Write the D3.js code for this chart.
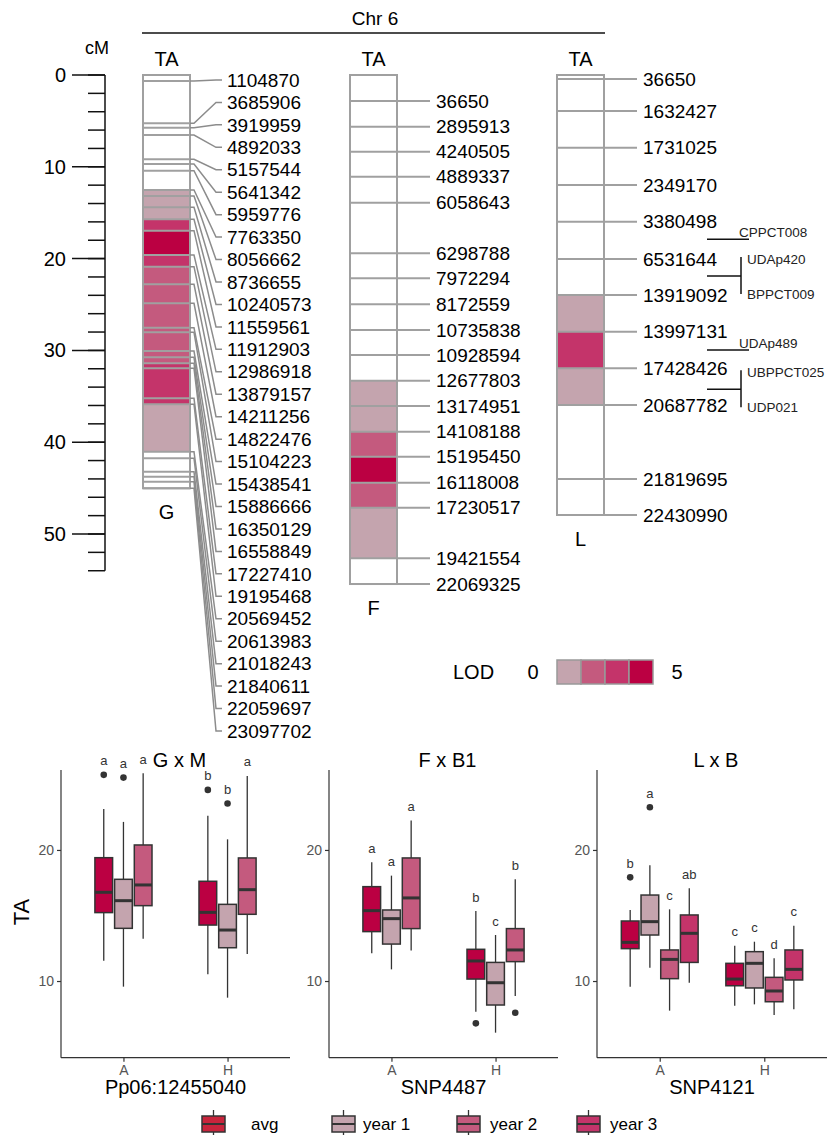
<!DOCTYPE html>
<html>
<head>
<meta charset="utf-8">
<script src="https://cdn.jsdelivr.net/npm/d3@7"></script>
<style>
body { margin: 0; background: #fff; }
svg { font-family: "Liberation Sans", Arial, sans-serif; }
</style>
</head>
<body>
<div id="svg-container"></div>
<script>
// ---- linkage maps (positions in cM, marker names = physical position) ----
var gMarkerCM = [0.65, 5.26, 5.74, 6.54, 9.18, 9.69, 10.42, 12.53, 13.18, 14.41, 15.72, 16.96, 19.61, 20.88, 22.8,
                 24.87, 27.53, 28.03, 30.07, 30.75, 31.41, 31.95, 35.22, 35.87, 41.03, 41.75, 43.21, 43.76, 44.3, 45.02];
var gMarkerNames = ["1104870", "3685906", "3919959", "4892033", "5157544", "5641342", "5959776", "7763350", "8056662",
                    "8736655", "10240573", "11559561", "11912903", "12986918", "13879157", "14211256", "14822476",
                    "15104223", "15438541", "15886666", "16350129", "16558849", "17227410", "19195468", "20569452",
                    "20613983", "21018243", "21840611", "22059697", "23097702"];
// LOD class of each interval between consecutive markers (0 = outside QTL)
var gLod = [0, 0, 0, 0, 0, 0, 0, 1, 1, 1, 3, 4, 3, 2, 2, 2, 2, 2, 2, 2, 3, 3, 3, 1, 0, 0, 0, 0, 0];

var fMarkerCM = [2.83, 5.63, 8.36, 11.08, 13.91, 19.42, 22.15, 24.97, 27.78, 30.5, 33.3, 36.06, 38.86, 41.58, 44.41, 47.14, 52.65, 55.45];
var fMarkerNames = ["36650", "2895913", "4240505", "4889337", "6058643", "6298788", "7972294", "8172559", "10735838",
                    "10928594", "12677803", "13174951", "14108188", "15195450", "16118008", "17230517", "19421554", "22069325"];
var fLod = [0, 0, 0, 0, 0, 0, 0, 0, 0, 0, 1, 1, 2, 4, 2, 1, 0];

var lMarkerCM = [0.44, 3.92, 7.92, 11.98, 15.98, 20.04, 23.97, 27.96, 31.95, 35.95, 44.01, 47.93];
var lMarkerNames = ["36650", "1632427", "1731025", "2349170", "3380498", "6531644", "13919092", "13997131",
                    "17428426", "20687782", "21819695", "22430990"];
var lLod = [0, 0, 0, 0, 0, 0, 1, 3, 1, 0, 0];

// SSR markers placed on the L map (cM)
var ssrSingles = [["CPPCT008", 17.9], ["UDAp489", 29.96]];
var ssrPairs = [["UDAp420", "BPPCT009", 21.9], ["UBPPCT025", "UDP021", 34.24]];

var cmTicks = d3.range(0, 51, 10);
var cmMinor = d3.range(0, 55, 2);

// ---- box plots: [group, series, lowWhisker, q1, median, q3, highWhisker, outliers, letter] ----
var groups = ["A", "H"];
var seriesNames = ["avg", "year 1", "year 2", "year 3"];

var gxmStats = [
  ["A", "avg",    11.55, 15.22, 16.77, 19.41, 23.13, [25.73], "a"],
  ["A", "year 1",  9.57, 14.02, 16.13, 17.76, 22.14, [25.52], "a"],
  ["A", "year 2", 13.23, 15.75, 17.33, 20.38, 25.85, [],      "a"],
  ["H", "avg",    10.51, 14.27, 15.24, 17.61, 22.6,  [24.58], "b"],
  ["H", "year 1",  8.73, 12.54, 13.89, 15.85, 20.81, [23.54], "b"],
  ["H", "year 2", 12.06, 15.09, 16.97, 19.39, 25.65, [],      "a"]
];
var fxbStats = [
  ["A", "avg",    12.11, 13.77, 15.37, 17.2,  19.06, [],     "a"],
  ["A", "year 1", 10.89, 12.82, 14.76, 15.42, 18.04, [],     "a"],
  ["A", "year 2", 12.32, 14.0,  16.34, 19.39, 22.24, [],     "a"],
  ["H", "avg",     7.66, 10.15, 11.53, 12.42, 15.34, [6.77], "b"],
  ["H", "year 1",  6.06,  8.17,  9.87, 11.42, 13.51, [],     "c"],
  ["H", "year 2",  8.85, 11.48, 12.37, 14.0,  17.76, [7.58], "b"]
];
var lxbStats = [
  ["A", "avg",     9.57, 12.47, 12.95, 14.58, 15.42, [17.91], "b"],
  ["A", "year 1", 11.02, 13.51, 14.53, 16.56, 18.83, [23.26], "a"],
  ["A", "year 2",  7.74, 10.18, 11.65, 12.37, 15.47, [],      "c"],
  ["A", "year 3",  9.87, 11.42, 13.64, 15.04, 17.07, [],      "ab"],
  ["H", "avg",     8.12,  9.64, 10.15, 11.35, 12.7,  [],      "c"],
  ["H", "year 1",  8.22,  9.47, 11.35, 12.24, 13.0,  [],      "c"],
  ["H", "year 2",  7.4,   8.42,  9.24, 10.28, 11.73, [],      "d"],
  ["H", "year 3",  7.84, 10.08, 10.89, 12.37, 14.22, [],      "c"]
];
var panelTitles = ["G x M", "F x B1", "L x B"];
var panelXLabels = ["Pp06:12455040", "SNP4487", "SNP4121"];
var panelSeries = [seriesNames.slice(0, 3), seriesNames.slice(0, 3), seriesNames];

// ---- styles ----
var lodColors = ["#ffffff", "#c4a4ae", "#c45a7e", "#c4346a", "#bb0042"];
var seriesColor = d3.scaleOrdinal().domain(seriesNames).range(["#bb0042", "#c4a4ae", "#c45a7e", "#c4346a"]);
var legendColor = d3.scaleOrdinal().domain(seriesNames).range(["#c8243c", "#c4a4ae", "#c45a7e", "#c4346a"]);
var chrGray = "#a0a0a0";

var width = 834, height = 1135;
var svg = d3.select("#svg-container").append("svg")
  .attr("width", width).attr("height", height);

// ================= linkage map =================
var cmY = d3.scaleLinear().domain([0, 50]).range([75, 534]);

svg.append("text").attr("x", 375).attr("y", 25).attr("text-anchor", "middle")
  .attr("font-size", 19).text("Chr 6");
svg.append("line").attr("x1", 142).attr("x2", 605).attr("y1", 33).attr("y2", 33)
  .attr("stroke", "#111").attr("stroke-width", 1.3);

// cM axis
var cmAxis = svg.append("g").attr("transform", "translate(105,0)");
cmAxis.append("line").attr("y1", cmY(0)).attr("y2", cmY(54)).attr("stroke", "#111").attr("stroke-width", 1.5);
cmAxis.selectAll("line.minor").data(cmMinor).enter().append("line")
  .attr("class", "minor").attr("x1", -17).attr("x2", 0)
  .attr("y1", function(d) { return cmY(d); }).attr("y2", function(d) { return cmY(d); })
  .attr("stroke", "#111").attr("stroke-width", 1.5);
cmAxis.selectAll("line.major").data(cmTicks).enter().append("line")
  .attr("class", "major").attr("x1", -33).attr("x2", 0)
  .attr("y1", function(d) { return cmY(d); }).attr("y2", function(d) { return cmY(d); })
  .attr("stroke", "#111").attr("stroke-width", 1.5);
cmAxis.selectAll("text").data(cmTicks).enter().append("text")
  .attr("x", -39).attr("y", function(d) { return cmY(d); })
  .attr("dy", "0.35em").attr("text-anchor", "end").attr("font-size", 20).text(function(d) { return d; });
svg.append("text").attr("x", 97).attr("y", 54).attr("text-anchor", "middle").attr("font-size", 18).text("cM");

function drawChrom(x0, markers, names, lod, chrName, fanLabels) {
  var w = 47, top = cmY(0), bottom = cmY(markers[markers.length - 1]);
  var g = svg.append("g");
  // QTL intervals
  g.selectAll("rect.lod").data(lod).enter().append("rect")
    .attr("x", x0).attr("width", w)
    .attr("y", function(d, i) { return cmY(markers[i]); })
    .attr("height", function(d, i) { return cmY(markers[i + 1]) - cmY(markers[i]); })
    .attr("fill", function(d) { return lodColors[d]; });
  g.append("rect").attr("x", x0).attr("y", top).attr("width", w).attr("height", bottom - top)
    .attr("fill", "none").attr("stroke", chrGray).attr("stroke-width", 2);

  var xr = x0 + w;
  if (fanLabels) {
    var first = cmY(markers[0]) - 1, step = 22.45;
    g.selectAll("line.mk").data(markers).enter().append("line")
      .attr("x1", x0).attr("x2", xr)
      .attr("y1", function(d) { return cmY(d); }).attr("y2", function(d) { return cmY(d); })
      .attr("stroke", chrGray).attr("stroke-width", 2);
    g.selectAll("path.con").data(markers).enter().append("path")
      .attr("fill", "none").attr("stroke", "#8c8c8c").attr("stroke-width", 1.5)
      .attr("d", function(d, i) {
        var my = cmY(d), ly = first + i * step;
        return d3.line()([[xr, my], [xr + 4, my], [xr + 26, ly], [xr + 32, ly]]);
      });
    g.selectAll("text.lbl").data(names).enter().append("text")
      .attr("x", xr + 37).attr("y", function(d, i) { return first + i * step; })
      .attr("dy", "0.35em").attr("font-size", 19).text(function(d) { return d; });
  } else {
    g.selectAll("line.mk").data(markers).enter().append("line")
      .attr("x1", x0).attr("x2", xr + 33)
      .attr("y1", function(d) { return cmY(d); }).attr("y2", function(d) { return cmY(d); })
      .attr("stroke", chrGray).attr("stroke-width", 2);
    g.selectAll("text.lbl").data(names).enter().append("text")
      .attr("x", xr + 39).attr("y", function(d, i) { return cmY(markers[i]); })
      .attr("dy", "0.35em").attr("font-size", 19).text(function(d) { return d; });
  }
  g.append("text").attr("x", x0 + w / 2).attr("y", top - 9).attr("text-anchor", "middle")
    .attr("font-size", 20).text("TA");
  g.append("text").attr("x", x0 + w / 2).attr("y", bottom + 31).attr("text-anchor", "middle")
    .attr("font-size", 20).text(chrName);
}

drawChrom(143, gMarkerCM, gMarkerNames, gLod, "G", true);
drawChrom(350, fMarkerCM, fMarkerNames, fLod, "F", false);
drawChrom(557, lMarkerCM, lMarkerNames, lLod, "L", false);

// SSR annotations beside L
var ssr = svg.append("g");
ssrSingles.forEach(function(s) {
  var y = cmY(s[1]);
  ssr.append("line").attr("x1", 707).attr("x2", 749).attr("y1", y).attr("y2", y).attr("stroke", "#111").attr("stroke-width", 1.5);
  ssr.append("text").attr("x", 739).attr("y", y - 2).attr("font-size", 13.5).attr("fill", "#222").text(s[0]);
});
ssrPairs.forEach(function(s) {
  var y = cmY(s[2]);
  ssr.append("line").attr("x1", 707).attr("x2", 741).attr("y1", y).attr("y2", y).attr("stroke", "#111").attr("stroke-width", 1.5);
  ssr.append("line").attr("x1", 741).attr("x2", 741).attr("y1", y - 19).attr("y2", y + 18).attr("stroke", "#111").attr("stroke-width", 1.5);
  ssr.append("text").attr("x", 747).attr("y", y - 17).attr("dy", "0.35em").attr("font-size", 13.5).attr("fill", "#222").text(s[0]);
  ssr.append("text").attr("x", 747).attr("y", y + 18).attr("dy", "0.35em").attr("font-size", 13.5).attr("fill", "#222").text(s[1]);
});

// LOD legend
var lodLeg = svg.append("g");
lodLeg.append("text").attr("x", 453).attr("y", 672).attr("dy", "0.35em").attr("font-size", 20).text("LOD");
lodLeg.append("text").attr("x", 533).attr("y", 672).attr("dy", "0.35em").attr("text-anchor", "middle").attr("font-size", 20).text("0");
lodLeg.append("text").attr("x", 677).attr("y", 672).attr("dy", "0.35em").attr("text-anchor", "middle").attr("font-size", 20).text("5");
lodLeg.selectAll("rect").data(lodColors.slice(1)).enter().append("rect")
  .attr("x", function(d, i) { return 557 + i * 24; }).attr("y", 660).attr("width", 24).attr("height", 24)
  .attr("fill", function(d) { return d; }).attr("stroke", "#999").attr("stroke-width", 1.5);

// ================= box plots =================
var panelX = [[61, 290], [329, 558], [597, 827]];
var boxTop = 770, boxBottom = 1057.7;
var y = d3.scaleLinear().domain([4.15, 26.1]).range([boxBottom, boxTop]);
var slot = 19.7;

[gxmStats, fxbStats, lxbStats].forEach(function(stats, p) {
  var x0 = panelX[p][0], x1 = panelX[p][1];
  var x = d3.scalePoint().domain(groups).range([x0, x1]).padding(0.6);
  var ser = panelSeries[p];
  var dodge = d3.scaleBand().domain(ser).range([-ser.length * slot / 2, ser.length * slot / 2]);
  var bw = dodge.bandwidth() - 2;
  var g = svg.append("g");

  var yAxis = g.append("g").attr("transform", "translate(" + x0 + ",0)")
    .call(d3.axisLeft(y).tickValues([10, 20]).tickSize(4).tickPadding(3));
  var xAxis = g.append("g").attr("transform", "translate(0," + boxBottom + ")")
    .call(d3.axisBottom(x).tickSize(4).tickPadding(3));
  [yAxis, xAxis].forEach(function(a) {
    a.select(".domain").attr("stroke", "#333").attr("stroke-width", 1.2);
    a.selectAll(".tick line").attr("stroke", "#333").attr("stroke-width", 1.2);
    a.selectAll(".tick text").attr("fill", "#555").attr("font-size", 14).attr("font-family", "Liberation Sans, Arial, sans-serif");
  });
  yAxis.select(".domain").attr("d", "M0," + boxTop + "V" + boxBottom);
  xAxis.select(".domain").attr("d", "M" + x0 + ",0H" + x1);

  var box = g.selectAll("g.box").data(stats).enter().append("g")
    .attr("transform", function(d) { return "translate(" + (x(d[0]) + dodge(d[1]) + dodge.bandwidth() / 2) + ",0)"; });
  box.append("line").attr("y1", function(d) { return y(d[6]); }).attr("y2", function(d) { return y(d[2]); })
    .attr("stroke", "#333").attr("stroke-width", 1.3);
  box.append("rect").attr("x", -bw / 2).attr("width", bw)
    .attr("y", function(d) { return y(d[5]); }).attr("height", function(d) { return y(d[3]) - y(d[5]); })
    .attr("fill", function(d) { return seriesColor(d[1]); }).attr("stroke", "#333").attr("stroke-width", 1.5);
  box.append("line").attr("x1", -bw / 2).attr("x2", bw / 2)
    .attr("y1", function(d) { return y(d[4]); }).attr("y2", function(d) { return y(d[4]); })
    .attr("stroke", "#333").attr("stroke-width", 3);
  box.selectAll("circle").data(function(d) { return d[7]; }).enter().append("circle")
    .attr("cy", function(v) { return y(v); }).attr("r", 3.3).attr("fill", "#333");
  box.append("text").attr("text-anchor", "middle").attr("dy", "0.35em").attr("font-size", 13).attr("fill", "#333")
    .attr("y", function(d) { return y(d3.max([d[6]].concat(d[7]))) - 14; })
    .text(function(d) { return d[8]; });

  g.append("text").attr("x", (x0 + x1) / 2 + 4).attr("y", 767).attr("text-anchor", "middle")
    .attr("font-size", 20).text(panelTitles[p]);
  g.append("text").attr("x", (x0 + x1) / 2).attr("y", 1094).attr("text-anchor", "middle")
    .attr("font-size", 20).text(panelXLabels[p]);
});

svg.append("text").attr("transform", "translate(29,912) rotate(-90)").attr("text-anchor", "middle")
  .attr("font-size", 22).text("TA");

// bottom legend
var legKeyX = [202, 332, 457, 577];
var legTextX = [251, 363, 490, 610];
var leg = svg.append("g").selectAll("g").data(seriesNames).enter().append("g");
leg.append("line").attr("x1", function(d, i) { return legKeyX[i] + 11.5; }).attr("x2", function(d, i) { return legKeyX[i] + 11.5; })
  .attr("y1", 1110).attr("y2", 1136).attr("stroke", "#333").attr("stroke-width", 1.3);
leg.append("rect").attr("x", function(d, i) { return legKeyX[i]; }).attr("y", 1116).attr("width", 23).attr("height", 16)
  .attr("fill", function(d) { return legendColor(d); }).attr("stroke", "#333").attr("stroke-width", 1.5);
leg.append("line").attr("x1", function(d, i) { return legKeyX[i]; }).attr("x2", function(d, i) { return legKeyX[i] + 23; })
  .attr("y1", 1124).attr("y2", 1124).attr("stroke", "#333").attr("stroke-width", 2);
leg.append("text").attr("x", function(d, i) { return legTextX[i]; }).attr("y", 1124).attr("dy", "0.35em")
  .attr("font-size", 17).text(function(d) { return d; });
</script>
</body>
</html>
